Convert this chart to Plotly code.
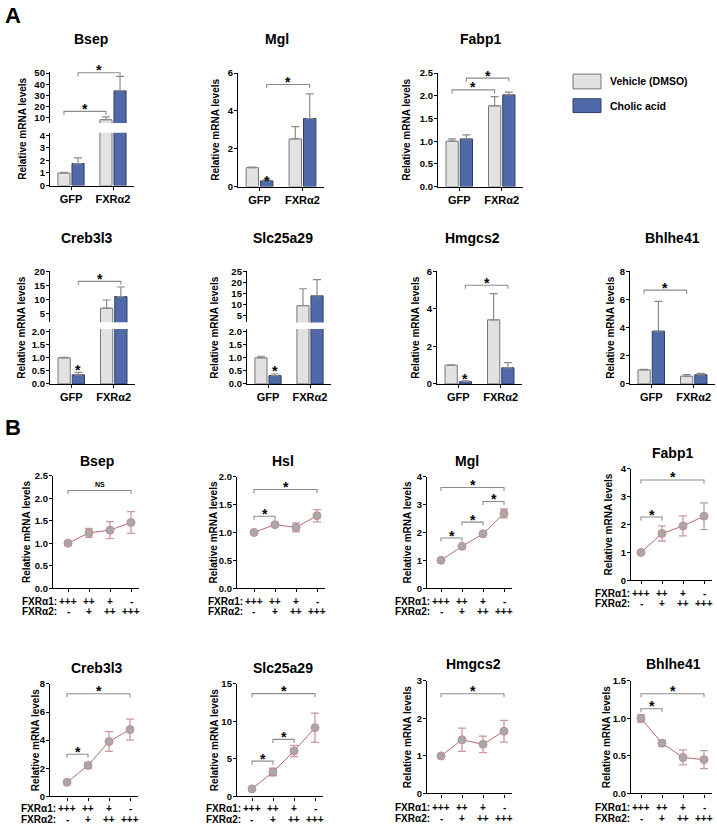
import plotly.graph_objects as go

W, H = 717, 830
FONT = "Liberation Sans, Arial, Helvetica, sans-serif"

# ---------------- DATA: panel A (bar charts) ----------------
groups_A = ["GFP", "FXRα2"]
series_A = ["Vehicle (DMSO)", "Cholic acid"]

bsep_veh, bsep_veh_err = [1.0, 8.0], [0.05, 2.6]
bsep_ca, bsep_ca_err = [1.75, 34.0], [0.45, 13.0]
mgl_veh, mgl_veh_err = [1.0, 2.52], [0.03, 0.65]
mgl_ca, mgl_ca_err = [0.3, 3.6], [0.06, 1.3]
fabp1_veh, fabp1_veh_err = [1.0, 1.78], [0.05, 0.2]
fabp1_ca, fabp1_ca_err = [1.05, 2.02], [0.09, 0.06]
creb_veh, creb_veh_err = [1.0, 7.0], [0.02, 2.9]
creb_ca, creb_ca_err = [0.35, 11.1], [0.09, 3.4]
slc_veh, slc_veh_err = [1.0, 9.6], [0.06, 7.6]
slc_ca, slc_ca_err = [0.32, 14.0], [0.06, 7.3]
hmg_veh, hmg_veh_err = [1.0, 3.42], [0.02, 1.4]
hmg_ca, hmg_ca_err = [0.12, 0.86], [0.04, 0.28]
bhl_veh, bhl_veh_err = [1.0, 0.55], [0.04, 0.12]
bhl_ca, bhl_ca_err = [3.75, 0.65], [2.12, 0.1]

# significance brackets: (series_from, group_from, series_to, group_to, y)
bsep_sig = [(0, 0, 0, 1, 15.5), (1, 0, 1, 1, 50.4)]
mgl_sig = [(1, 0, 1, 1, 5.4)]
fabp1_sig = [(0, 0, 0, 1, 2.13), (1, 0, 1, 1, 2.39)]
creb_sig = [(1, 0, 1, 1, 16.5)]
slc_sig = []
hmg_sig = [(1, 0, 1, 1, 5.26)]
bhl_sig = [(0, 0, 0, 1, 6.67)]
# stars over single bars: (series, group, y)
mgl_star = [(1, 0, 0.5)]
creb_star = [(1, 0, 0.65)]
slc_star = [(1, 0, 0.61)]
hmg_star = [(1, 0, 0.47)]

# ---------------- DATA: panel B (line charts) ----------------
b_x = [0, 1, 2, 3]
fxr1 = ["+++", "++", "+", "-"]
fxr2 = ["-", "+", "++", "+++"]
bsep_b, bsep_b_err = [1.0, 1.23, 1.29, 1.46], [0.04, 0.1, 0.19, 0.24]
hsl_b, hsl_b_err = [1.0, 1.14, 1.09, 1.30], [0.02, 0.03, 0.08, 0.11]
mgl_b, mgl_b_err = [1.0, 1.5, 1.95, 2.68], [0.03, 0.05, 0.05, 0.16]
fabp1_b, fabp1_b_err = [1.0, 1.68, 1.95, 2.3], [0.03, 0.27, 0.36, 0.48]
creb_b, creb_b_err = [1.0, 2.2, 3.9, 4.75], [0.05, 0.2, 0.7, 0.75]
slc_b, slc_b_err = [1.0, 3.25, 6.05, 9.15], [0.1, 0.5, 0.75, 1.95]
hmg_b, hmg_b_err = [1.0, 1.43, 1.31, 1.66], [0.03, 0.31, 0.22, 0.29]
bhl_b, bhl_b_err = [1.0, 0.67, 0.48, 0.45], [0.05, 0.04, 0.1, 0.12]

bsep_b_sig = [(0, 3, 2.17, "NS")]
hsl_b_sig = [(0, 1, 1.29, "*"), (0, 3, 1.77, "*")]
mgl_b_sig = [(0, 1, 1.8, "*"), (1, 2, 2.37, "*"), (2, 3, 3.11, "*"), (0, 3, 3.61, "*")]
fabp1_b_sig = [(0, 1, 2.27, "*"), (0, 3, 3.6, "*")]
creb_b_sig = [(0, 1, 3.0, "*"), (0, 3, 7.3, "*")]
slc_b_sig = [(0, 1, 4.7, "*"), (1, 2, 7.6, "*"), (0, 3, 13.7, "*")]
hmg_b_sig = [(0, 3, 2.66, "*")]
bhl_b_sig = [(0, 1, 1.13, "*"), (0, 3, 1.33, "*")]

# ---------------- STYLE ----------------
VEH_FILL, VEH_LINE = "#e2e2e2", "#767676"
CA_FILL, CA_LINE = "#5069a8", "#2f3f68"
ERR_A = "#8a8a8a"
BR_COL = "#8c8c8c"
LINE_B, MK_FILL, MK_LINE, ERR_B = "#b56b70", "#a8a8a8", "#c48c90", "#c99a9d"
BARGAP, BARGROUPGAP = 0.33, 0.14
BAR_OFF = (1 - BARGAP) / 4.0

fig = go.Figure()
layout = dict(width=W, height=H, margin=dict(l=0, r=0, t=0, b=0),
              paper_bgcolor="white", plot_bgcolor="white", showlegend=False,
              bargap=BARGAP, bargroupgap=BARGROUPGAP,
              font=dict(family=FONT, color="black"))
shapes, annotations = [], []
counter = [0]


def px_x(v):
    return v / W


def px_y(v):
    return 1 - v / H


def new_axes(xpx, ypx, xr, yr, xcat=False, xvisible=True, yvals=None, yfmt=None,
             xvals=None, xlabels=True):
    counter[0] += 1
    k = counter[0]
    s = "" if k == 1 else str(k)
    common = dict(showgrid=False, zeroline=False, fixedrange=True, showline=True,
                  linecolor="black", linewidth=1.3, ticks="outside", ticklen=3,
                  tickwidth=1.2, tickcolor="black")
    xa = dict(common, domain=[px_x(xpx[0]), px_x(xpx[1])], range=xr, anchor="y" + s,
              tickfont=dict(family=FONT, size=11, color="black", weight="bold"))
    if xcat:
        xa.update(type="category", categoryorder="array", categoryarray=groups_A)
    if xvals is not None:
        xa.update(tickvals=xvals)
    if not xlabels:
        xa.update(showticklabels=False)
    if not xvisible:
        xa = dict(domain=xa["domain"], range=xr, anchor="y" + s, visible=False,
                  fixedrange=True, **({"type": "category", "categoryorder": "array",
                                       "categoryarray": groups_A} if xcat else {}))
    ya = dict(common, domain=[px_y(ypx[1]), px_y(ypx[0])], range=yr, anchor="x" + s,
              tickfont=dict(family=FONT, size=9.5, color="black", weight="bold"),
              ticklabelstandoff=-1)
    if yvals is not None:
        ya.update(tickmode="array", tickvals=yvals)
    if yfmt:
        ya.update(tickformat=yfmt)
    layout["xaxis" + s] = xa
    layout["yaxis" + s] = ya
    return "x" + s, "y" + s


def text(t, x, y, size, xref="paper", yref="paper", xanchor="center", yanchor="middle",
         angle=0, yshift=0, weight="bold"):
    annotations.append(dict(text=t, x=x, y=y, xref=xref, yref=yref, showarrow=False,
                            xanchor=xanchor, yanchor=yanchor, textangle=angle, yshift=yshift,
                            font=dict(family=FONT, size=size, color="black", weight=weight)))


def bracket(xa, ya, x0, x1, y, label, label_size=14):
    shapes.append(dict(type="path", xref=xa, yref=ya, ysizemode="pixel", yanchor=y,
                       path=f"M {x0},-3.5 L {x0},0 L {x1},0 L {x1},-3.5",
                       line=dict(color=BR_COL, width=1.1)))
    if label == "*":
        text("*", (x0 + x1) / 2, y, label_size, xref=xa, yref=ya, yshift=2.5)
    else:
        text(label, (x0 + x1) / 2, y, 7, xref=xa, yref=ya, yanchor="bottom", yshift=1)


def bar_traces(xa, ya, veh, veh_err, ca, ca_err):
    for name, vals, err, fill, lc in [(series_A[0], veh, veh_err, VEH_FILL, VEH_LINE),
                                       (series_A[1], ca, ca_err, CA_FILL, CA_LINE)]:
        fig.add_trace(go.Bar(x=groups_A, y=vals, name=name, xaxis=xa, yaxis=ya,
                             marker=dict(color=fill, line=dict(color=lc, width=1)),
                             error_y=dict(type="data", symmetric=False, array=err,
                                          arrayminus=[0] * len(err), color=ERR_A,
                                          thickness=1.2, width=4)))


def a_panel(title, tpos, ytx, xpx, veh, veh_err, ca, ca_err, sig, stars,
            lower, upper=None):
    xa, ya = new_axes(xpx, lower[0], [-0.5, 1.5], lower[1], xcat=True,
                      yvals=lower[2], yfmt=lower[3])
    bar_traces(xa, ya, veh, veh_err, ca, ca_err)
    axes = {"lower": (xa, ya)}
    top = lower[0][0]
    bottom = lower[0][1]
    if upper is not None:
        xu, yu = new_axes(xpx, upper[0], [-0.5, 1.5], upper[1], xcat=True, xvisible=False,
                          yvals=upper[2], yfmt=upper[3])
        bar_traces(xu, yu, veh, veh_err, ca, ca_err)
        axes["upper"] = (xu, yu)
        top = upper[0][0]
    for (s0, g0, s1, g1, y) in sig:
        xa_, ya_ = axes["upper"] if (upper is not None and y > lower[1][1]) else axes["lower"]
        x0 = g0 + (-BAR_OFF if s0 == 0 else BAR_OFF)
        x1 = g1 + (-BAR_OFF if s1 == 0 else BAR_OFF)
        bracket(xa_, ya_, x0, x1, y, "*")
    for (s, g, y) in stars:
        xa_, ya_ = axes["lower"]
        text("*", g + (-BAR_OFF if s == 0 else BAR_OFF), y, 14, xref=xa_, yref=ya_, yshift=-3.5)
    text(title, px_x(tpos[0]), px_y(tpos[1]), 14)
    text("Relative mRNA levels", px_x(ytx), px_y((top + bottom) / 2), 10, angle=-90)


def b_panel(title, tpos, ytx, axis_px, first_px, ypx, ymax, dtick, fmt, vals, err, sig, rows_px):
    step = 21.0
    xr = [-(first_px - axis_px) / step, 3 + 8 / step]
    xend = first_px + 3 * step + 8
    yvals = [round(i * dtick, 6) for i in range(int(round(ymax / dtick)) + 1)]
    xa, ya = new_axes([axis_px, xend], ypx, xr, [0, ymax], yvals=yvals, yfmt=fmt,
                      xvals=b_x, xlabels=False)
    fig.add_trace(go.Scatter(x=b_x, y=vals, xaxis=xa, yaxis=ya, mode="lines+markers",
                             cliponaxis=False,
                             line=dict(color=LINE_B, width=1),
                             marker=dict(size=8, color=MK_FILL, line=dict(color=MK_LINE, width=1)),
                             error_y=dict(type="data", array=err, color=ERR_B,
                                          thickness=1.3, width=4)))
    for (i, j, y, lab) in sig:
        bracket(xa, ya, b_x[i], b_x[j], y, lab)
    text(title, px_x(tpos[0]), px_y(tpos[1]), 14)
    text("Relative mRNA levels", px_x(ytx), px_y((ypx[0] + ypx[1]) / 2), 10, angle=-90)
    for lab, row_y in zip(["FXRα1:", "FXRα2:"], rows_px):
        text(lab, px_x(first_px - 9), px_y(row_y), 10, xanchor="right")
    for i, (a, b) in enumerate(zip(fxr1, fxr2)):
        text(a, b_x[i], px_y(rows_px[0]), 10, xref=xa)
        text(b, b_x[i], px_y(rows_px[1]), 10, xref=xa)


# ---------------- PANEL A ----------------
text("A", px_x(3), px_y(10), 22, xanchor="left")
a_panel("Bsep", (91, 33), 23, (50, 134), bsep_veh, bsep_veh_err, bsep_ca, bsep_ca_err,
        bsep_sig, [],
        lower=((128.4, 182), [0, 4.2], [0, 1, 2, 3, 4], None),
        upper=((66.9, 118.6), [5, 51], [10, 20, 30, 40, 50], None))
a_panel("Mgl", (277, 33), 216, (238, 324), mgl_veh, mgl_veh_err, mgl_ca, mgl_ca_err,
        mgl_sig, mgl_star, lower=((68, 183), [0, 6], [0, 2, 4, 6], None))
a_panel("Fabp1", (480, 33), 407, (438, 523), fabp1_veh, fabp1_veh_err, fabp1_ca, fabp1_ca_err,
        fabp1_sig, [], lower=((68, 183), [0, 2.5], [0, 0.5, 1, 1.5, 2, 2.5], ".1f"))
a_panel("Creb3l3", (87, 235), 22, (50, 135), creb_veh, creb_veh_err, creb_ca, creb_ca_err,
        creb_sig, creb_star,
        lower=((327.4, 383), [0, 2.1], [0, 0.5, 1, 1.5, 2], ".1f"),
        upper=((269, 320.6), [2, 20], [5, 10, 15, 20], None))
a_panel("Slc25a29", (283, 235), 215, (247, 331), slc_veh, slc_veh_err, slc_ca, slc_ca_err,
        slc_sig, slc_star,
        lower=((327.4, 383), [0, 2.1], [0, 0.5, 1, 1.5, 2], ".1f"),
        upper=((269, 320.75), [2, 25], [5, 10, 15, 20, 25], None))
a_panel("Hmgcs2", (472, 235), 416, (437, 522), hmg_veh, hmg_veh_err, hmg_ca, hmg_ca_err,
        hmg_sig, hmg_star, lower=((269, 383), [0, 6], [0, 2, 4, 6], None))
a_panel("Bhlhe41", (672, 235), 611, (630, 715), bhl_veh, bhl_veh_err, bhl_ca, bhl_ca_err,
        bhl_sig, [], lower=((269, 383), [0, 8], [0, 2, 4, 6, 8], None))

# legend (drawn as swatches + labels)
for name, fill, lc, (y0, y1) in [(series_A[0], VEH_FILL, VEH_LINE, (69, 84)),
                                  (series_A[1], CA_FILL, CA_LINE, (94, 108))]:
    shapes.append(dict(type="rect", xref="paper", yref="paper",
                       x0=px_x(573), x1=px_x(601), y0=px_y(y1), y1=px_y(y0),
                       fillcolor=fill, line=dict(color=lc, width=1)))
    text(name, px_x(608), px_y((y0 + y1) / 2), 10.5, xanchor="left")

# ---------------- PANEL B ----------------
text("B", px_x(3), px_y(427), 22, xanchor="left")
b_panel("Bsep", (97, 461), 27, 53, 68, (476, 590), 2.5, 0.5, ".1f", bsep_b, bsep_b_err,
        bsep_b_sig, (603, 614))
b_panel("Hsl", (283, 461), 213, 237, 254, (477, 590), 2.0, 0.5, ".1f", hsl_b, hsl_b_err,
        hsl_b_sig, (603, 614))
b_panel("Mgl", (467, 461), 407, 427, 441, (477, 590), 4, 1, None, mgl_b, mgl_b_err,
        mgl_b_sig, (603, 614))
b_panel("Fabp1", (672, 453), 609, 631, 641, (469, 582), 4, 1, None, fabp1_b, fabp1_b_err,
        fabp1_b_sig, (595, 606))
b_panel("Creb3l3", (97, 671), 35, 50, 67, (687, 801), 8, 2, None, creb_b, creb_b_err,
        creb_b_sig, (813, 824))
b_panel("Slc25a29", (283, 671), 214, 237, 252, (687, 801), 15, 5, None, slc_b, slc_b_err,
        slc_b_sig, (813, 824))
b_panel("Hmgcs2", (473, 667), 407, 427, 441, (684, 798), 3, 1, None, hmg_b, hmg_b_err,
        hmg_b_sig, (812, 823))
b_panel("Bhlhe41", (673, 667), 606, 631, 641, (684, 798), 1.5, 0.5, ".1f", bhl_b, bhl_b_err,
        bhl_b_sig, (812, 823))

layout["shapes"] = shapes
layout["annotations"] = annotations
fig.update_layout(**layout)
fig.write_html("out.html", config={"displayModeBar": False},
               post_script="document.body.style.margin='0px';document.body.style.overflow='hidden';")
